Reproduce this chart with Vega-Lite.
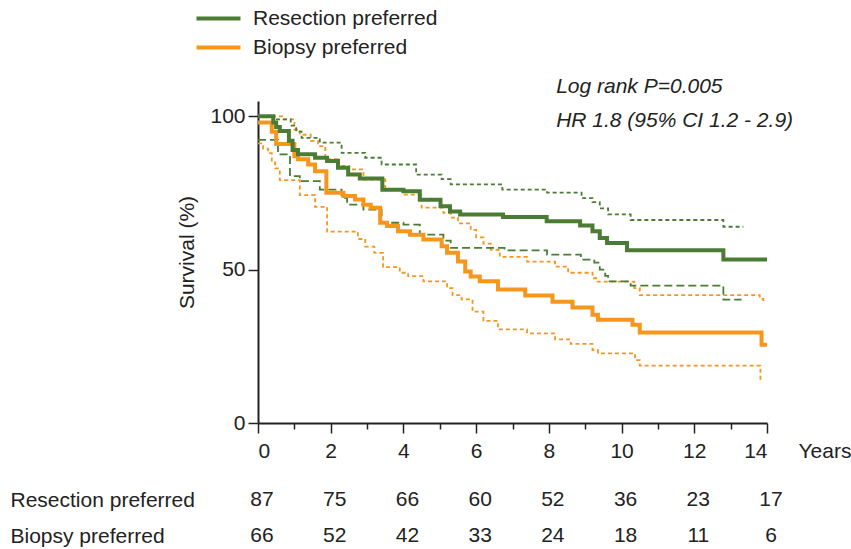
{
  "$schema": "https://vega.github.io/schema/vega-lite/v6.json",
  "autosize": "none",
  "width": 509,
  "height": 322,
  "padding": {"left": 258, "top": 101, "right": 84, "bottom": 126},
  "background": "white",
  "config": {
    "view": {"stroke": null},
    "font": "Liberation Sans",
    "axis": {"labelFont": "Liberation Sans", "titleFont": "Liberation Sans", "labelColor": "#222", "titleColor": "#222", "grid": false},
    "legend": {"labelFont": "Liberation Sans"},
    "text": {"font": "Liberation Sans"}
  },
  "datasets": {
    "curves": [
      {"g":"Biopsy preferred","k":"B est","t":0,"v":98},
      {"g":"Biopsy preferred","k":"B est","t":0.38,"v":95},
      {"g":"Biopsy preferred","k":"B est","t":0.5,"v":91},
      {"g":"Biopsy preferred","k":"B est","t":1.0,"v":87},
      {"g":"Biopsy preferred","k":"B est","t":1.1,"v":86},
      {"g":"Biopsy preferred","k":"B est","t":1.38,"v":84.3},
      {"g":"Biopsy preferred","k":"B est","t":1.57,"v":82.1},
      {"g":"Biopsy preferred","k":"B est","t":1.88,"v":75.1},
      {"g":"Biopsy preferred","k":"B est","t":2.35,"v":74},
      {"g":"Biopsy preferred","k":"B est","t":2.67,"v":72.9},
      {"g":"Biopsy preferred","k":"B est","t":2.9,"v":71.2},
      {"g":"Biopsy preferred","k":"B est","t":3.1,"v":70.2},
      {"g":"Biopsy preferred","k":"B est","t":3.36,"v":65.3},
      {"g":"Biopsy preferred","k":"B est","t":3.55,"v":64.2},
      {"g":"Biopsy preferred","k":"B est","t":3.85,"v":62.5},
      {"g":"Biopsy preferred","k":"B est","t":4.18,"v":61.4},
      {"g":"Biopsy preferred","k":"B est","t":4.55,"v":59.8},
      {"g":"Biopsy preferred","k":"B est","t":5.05,"v":57.6},
      {"g":"Biopsy preferred","k":"B est","t":5.2,"v":55.5},
      {"g":"Biopsy preferred","k":"B est","t":5.5,"v":52.7},
      {"g":"Biopsy preferred","k":"B est","t":5.7,"v":49.4},
      {"g":"Biopsy preferred","k":"B est","t":5.85,"v":47.8},
      {"g":"Biopsy preferred","k":"B est","t":6.1,"v":46.2},
      {"g":"Biopsy preferred","k":"B est","t":6.6,"v":43.5},
      {"g":"Biopsy preferred","k":"B est","t":7.35,"v":41.6},
      {"g":"Biopsy preferred","k":"B est","t":8.1,"v":39.5},
      {"g":"Biopsy preferred","k":"B est","t":8.65,"v":37.7},
      {"g":"Biopsy preferred","k":"B est","t":9.2,"v":35.3},
      {"g":"Biopsy preferred","k":"B est","t":9.35,"v":33.7},
      {"g":"Biopsy preferred","k":"B est","t":10.3,"v":32},
      {"g":"Biopsy preferred","k":"B est","t":10.5,"v":29.5},
      {"g":"Biopsy preferred","k":"B est","t":13.85,"v":25.5},
      {"g":"Biopsy preferred","k":"B est","t":14,"v":25.5},

      {"g":"Biopsy preferred","k":"B upper","t":0,"v":100},
      {"g":"Biopsy preferred","k":"B upper","t":0.7,"v":99},
      {"g":"Biopsy preferred","k":"B upper","t":1.0,"v":95.7},
      {"g":"Biopsy preferred","k":"B upper","t":1.15,"v":94},
      {"g":"Biopsy preferred","k":"B upper","t":1.45,"v":92},
      {"g":"Biopsy preferred","k":"B upper","t":1.65,"v":90.3},
      {"g":"Biopsy preferred","k":"B upper","t":1.85,"v":86},
      {"g":"Biopsy preferred","k":"B upper","t":2.2,"v":83.8},
      {"g":"Biopsy preferred","k":"B upper","t":2.5,"v":82.7},
      {"g":"Biopsy preferred","k":"B upper","t":2.9,"v":79.4},
      {"g":"Biopsy preferred","k":"B upper","t":3.5,"v":76.1},
      {"g":"Biopsy preferred","k":"B upper","t":4.0,"v":74.5},
      {"g":"Biopsy preferred","k":"B upper","t":4.5,"v":70.2},
      {"g":"Biopsy preferred","k":"B upper","t":5.1,"v":68.5},
      {"g":"Biopsy preferred","k":"B upper","t":5.3,"v":67},
      {"g":"Biopsy preferred","k":"B upper","t":5.5,"v":65.1},
      {"g":"Biopsy preferred","k":"B upper","t":5.85,"v":63},
      {"g":"Biopsy preferred","k":"B upper","t":6.0,"v":60.5},
      {"g":"Biopsy preferred","k":"B upper","t":6.2,"v":58.5},
      {"g":"Biopsy preferred","k":"B upper","t":6.4,"v":56.5},
      {"g":"Biopsy preferred","k":"B upper","t":6.65,"v":54.2},
      {"g":"Biopsy preferred","k":"B upper","t":7.4,"v":52.6},
      {"g":"Biopsy preferred","k":"B upper","t":8.17,"v":51},
      {"g":"Biopsy preferred","k":"B upper","t":8.53,"v":49},
      {"g":"Biopsy preferred","k":"B upper","t":9.2,"v":47.2},
      {"g":"Biopsy preferred","k":"B upper","t":9.3,"v":46.1},
      {"g":"Biopsy preferred","k":"B upper","t":10.35,"v":44},
      {"g":"Biopsy preferred","k":"B upper","t":10.5,"v":41.7},
      {"g":"Biopsy preferred","k":"B upper","t":13.8,"v":40.5},
      {"g":"Biopsy preferred","k":"B upper","t":13.9,"v":39.3},

      {"g":"Biopsy preferred","k":"B lower","t":0,"v":91.2},
      {"g":"Biopsy preferred","k":"B lower","t":0.14,"v":89.5},
      {"g":"Biopsy preferred","k":"B lower","t":0.28,"v":88},
      {"g":"Biopsy preferred","k":"B lower","t":0.38,"v":85},
      {"g":"Biopsy preferred","k":"B lower","t":0.47,"v":83},
      {"g":"Biopsy preferred","k":"B lower","t":0.6,"v":79.2},
      {"g":"Biopsy preferred","k":"B lower","t":1.15,"v":74.3},
      {"g":"Biopsy preferred","k":"B lower","t":1.57,"v":70.5},
      {"g":"Biopsy preferred","k":"B lower","t":1.9,"v":62.4},
      {"g":"Biopsy preferred","k":"B lower","t":2.75,"v":60},
      {"g":"Biopsy preferred","k":"B lower","t":2.95,"v":57.5},
      {"g":"Biopsy preferred","k":"B lower","t":3.2,"v":55.5},
      {"g":"Biopsy preferred","k":"B lower","t":3.44,"v":50.8},
      {"g":"Biopsy preferred","k":"B lower","t":3.9,"v":49},
      {"g":"Biopsy preferred","k":"B lower","t":4.13,"v":47.9},
      {"g":"Biopsy preferred","k":"B lower","t":4.55,"v":46.2},
      {"g":"Biopsy preferred","k":"B lower","t":5.2,"v":44},
      {"g":"Biopsy preferred","k":"B lower","t":5.35,"v":41.7},
      {"g":"Biopsy preferred","k":"B lower","t":5.6,"v":40.3},
      {"g":"Biopsy preferred","k":"B lower","t":5.9,"v":36.3},
      {"g":"Biopsy preferred","k":"B lower","t":6.2,"v":33.3},
      {"g":"Biopsy preferred","k":"B lower","t":6.6,"v":30.5},
      {"g":"Biopsy preferred","k":"B lower","t":7.4,"v":29.2},
      {"g":"Biopsy preferred","k":"B lower","t":8.17,"v":27.3},
      {"g":"Biopsy preferred","k":"B lower","t":8.6,"v":25.8},
      {"g":"Biopsy preferred","k":"B lower","t":9.2,"v":23.8},
      {"g":"Biopsy preferred","k":"B lower","t":9.35,"v":22.7},
      {"g":"Biopsy preferred","k":"B lower","t":10.37,"v":20.5},
      {"g":"Biopsy preferred","k":"B lower","t":10.5,"v":18.7},
      {"g":"Biopsy preferred","k":"B lower","t":13.82,"v":14},

      {"g":"Resection preferred","k":"R est","t":0,"v":100},
      {"g":"Resection preferred","k":"R est","t":0.42,"v":98},
      {"g":"Resection preferred","k":"R est","t":0.5,"v":96.5},
      {"g":"Resection preferred","k":"R est","t":0.6,"v":95.2},
      {"g":"Resection preferred","k":"R est","t":0.85,"v":92},
      {"g":"Resection preferred","k":"R est","t":0.95,"v":89},
      {"g":"Resection preferred","k":"R est","t":1.1,"v":87.6},
      {"g":"Resection preferred","k":"R est","t":1.57,"v":86.5},
      {"g":"Resection preferred","k":"R est","t":1.9,"v":85.4},
      {"g":"Resection preferred","k":"R est","t":2.2,"v":83.2},
      {"g":"Resection preferred","k":"R est","t":2.48,"v":81},
      {"g":"Resection preferred","k":"R est","t":2.8,"v":79.7},
      {"g":"Resection preferred","k":"R est","t":3.42,"v":76.1},
      {"g":"Resection preferred","k":"R est","t":4.0,"v":75.6},
      {"g":"Resection preferred","k":"R est","t":4.45,"v":72.8},
      {"g":"Resection preferred","k":"R est","t":5.02,"v":70.7},
      {"g":"Resection preferred","k":"R est","t":5.28,"v":69},
      {"g":"Resection preferred","k":"R est","t":5.56,"v":68},
      {"g":"Resection preferred","k":"R est","t":6.74,"v":67.2},
      {"g":"Resection preferred","k":"R est","t":7.94,"v":65.8},
      {"g":"Resection preferred","k":"R est","t":8.86,"v":64.4},
      {"g":"Resection preferred","k":"R est","t":9.2,"v":62.5},
      {"g":"Resection preferred","k":"R est","t":9.4,"v":60.3},
      {"g":"Resection preferred","k":"R est","t":9.6,"v":58.7},
      {"g":"Resection preferred","k":"R est","t":10.15,"v":56.3},
      {"g":"Resection preferred","k":"R est","t":12.8,"v":53.3},
      {"g":"Resection preferred","k":"R est","t":14,"v":53.3},

      {"g":"Resection preferred","k":"R upper","t":0,"v":100},
      {"g":"Resection preferred","k":"R upper","t":0.45,"v":99},
      {"g":"Resection preferred","k":"R upper","t":0.9,"v":97},
      {"g":"Resection preferred","k":"R upper","t":1.05,"v":95},
      {"g":"Resection preferred","k":"R upper","t":1.2,"v":93},
      {"g":"Resection preferred","k":"R upper","t":1.7,"v":91.4},
      {"g":"Resection preferred","k":"R upper","t":2.3,"v":88.1},
      {"g":"Resection preferred","k":"R upper","t":2.95,"v":86.5},
      {"g":"Resection preferred","k":"R upper","t":3.4,"v":84.3},
      {"g":"Resection preferred","k":"R upper","t":4.35,"v":81},
      {"g":"Resection preferred","k":"R upper","t":5.05,"v":79.5},
      {"g":"Resection preferred","k":"R upper","t":5.3,"v":77.8},
      {"g":"Resection preferred","k":"R upper","t":6.72,"v":76.1},
      {"g":"Resection preferred","k":"R upper","t":7.95,"v":75.1},
      {"g":"Resection preferred","k":"R upper","t":8.9,"v":73.3},
      {"g":"Resection preferred","k":"R upper","t":9.2,"v":72},
      {"g":"Resection preferred","k":"R upper","t":9.4,"v":70},
      {"g":"Resection preferred","k":"R upper","t":9.63,"v":68},
      {"g":"Resection preferred","k":"R upper","t":10.25,"v":66.2},
      {"g":"Resection preferred","k":"R upper","t":12.8,"v":64},
      {"g":"Resection preferred","k":"R upper","t":13.35,"v":64},

      {"g":"Resection preferred","k":"R lower","t":0,"v":92.3},
      {"g":"Resection preferred","k":"R lower","t":0.55,"v":87.6},
      {"g":"Resection preferred","k":"R lower","t":0.88,"v":80.5},
      {"g":"Resection preferred","k":"R lower","t":1.15,"v":78.9},
      {"g":"Resection preferred","k":"R lower","t":1.7,"v":76.1},
      {"g":"Resection preferred","k":"R lower","t":2.3,"v":73.4},
      {"g":"Resection preferred","k":"R lower","t":2.45,"v":71.2},
      {"g":"Resection preferred","k":"R lower","t":2.9,"v":69.6},
      {"g":"Resection preferred","k":"R lower","t":3.4,"v":65.3},
      {"g":"Resection preferred","k":"R lower","t":4.0,"v":64.7},
      {"g":"Resection preferred","k":"R lower","t":4.45,"v":61.4},
      {"g":"Resection preferred","k":"R lower","t":5.1,"v":59.5},
      {"g":"Resection preferred","k":"R lower","t":5.3,"v":57.1},
      {"g":"Resection preferred","k":"R lower","t":6.78,"v":56.3},
      {"g":"Resection preferred","k":"R lower","t":7.95,"v":54.9},
      {"g":"Resection preferred","k":"R lower","t":8.88,"v":53.3},
      {"g":"Resection preferred","k":"R lower","t":9.25,"v":52.3},
      {"g":"Resection preferred","k":"R lower","t":9.4,"v":50},
      {"g":"Resection preferred","k":"R lower","t":9.55,"v":48},
      {"g":"Resection preferred","k":"R lower","t":9.63,"v":46.2},
      {"g":"Resection preferred","k":"R lower","t":10.25,"v":44.8},
      {"g":"Resection preferred","k":"R lower","t":12.8,"v":40.2},
      {"g":"Resection preferred","k":"R lower","t":13.3,"v":40.2}
    ],
    "risk": [
      {"row":"Resection preferred","t":0,"n":87},
      {"row":"Resection preferred","t":2,"n":75},
      {"row":"Resection preferred","t":4,"n":66},
      {"row":"Resection preferred","t":6,"n":60},
      {"row":"Resection preferred","t":8,"n":52},
      {"row":"Resection preferred","t":10,"n":36},
      {"row":"Resection preferred","t":12,"n":23},
      {"row":"Resection preferred","t":14,"n":17},
      {"row":"Biopsy preferred","t":0,"n":66},
      {"row":"Biopsy preferred","t":2,"n":52},
      {"row":"Biopsy preferred","t":4,"n":42},
      {"row":"Biopsy preferred","t":6,"n":33},
      {"row":"Biopsy preferred","t":8,"n":24},
      {"row":"Biopsy preferred","t":10,"n":18},
      {"row":"Biopsy preferred","t":12,"n":11},
      {"row":"Biopsy preferred","t":14,"n":6}
    ],
    "one": [{}]
  },
  "layer": [
    {
      "data": {"name": "curves"},
      "transform": [{"filter": {"field": "k", "oneOf": ["R upper", "R lower", "B upper", "B lower"]}}],
      "mark": {"type": "line", "interpolate": "step-after", "strokeWidth": 1.8},
      "encoding": {
        "x": {"field": "t", "type": "quantitative",
          "scale": {"domain": [0, 14], "nice": false, "zero": false},
          "axis": {"orient": "bottom", "values": [1, 3, 5, 7, 9, 11, 13], "labels": false, "domain": false, "ticks": true, "tickSize": 6, "tickWidth": 1.5, "tickColor": "#222", "title": null, "grid": false}},
        "y": {"field": "v", "type": "quantitative", "scale": {"domain": [0, 105], "nice": false}, "axis": null},
        "color": {"field": "g", "type": "nominal",
          "scale": {"domain": ["Resection preferred", "Biopsy preferred"], "range": ["#4b7c33", "#f7961c"]},
          "legend": {"orient": "none", "legendX": -50, "legendY": -93, "title": null, "labelFontSize": 21, "labelColor": "#222",
            "symbolType": "M-4,0H4", "symbolSize": 121, "symbolStrokeWidth": 4, "labelOffset": 24, "rowPadding": 7, "labelLimit": 400}},
        "strokeDash": {"field": "k", "type": "nominal",
          "scale": {"domain": ["R upper", "R lower", "B upper", "B lower"], "range": [[4, 3], [8, 4], [4, 3], [4, 3]]},
          "legend": null}
      }
    },
    {
      "data": {"name": "curves"},
      "transform": [{"filter": {"field": "k", "oneOf": ["B est", "R est"]}}],
      "mark": {"type": "line", "interpolate": "step-after", "strokeWidth": 4},
      "encoding": {
        "x": {"field": "t", "type": "quantitative",
          "scale": {"domain": [0, 14], "nice": false, "zero": false},
          "axis": {"orient": "bottom", "values": [0, 2, 4, 6, 8, 10, 12, 14], "tickSize": 10, "tickWidth": 1.5, "tickColor": "#222",
            "domainColor": "#222", "domainWidth": 2, "labelFontSize": 21, "labelPadding": 7, "labelBaseline": "top",
            "title": "Years", "titleFontSize": 21, "titleFontWeight": "normal", "titleX": 540, "titleY": 17,
            "titleAlign": "left", "titleBaseline": "top"}},
        "y": {"field": "v", "type": "quantitative", "scale": {"domain": [0, 105], "nice": false},
          "axis": {"orient": "left", "values": [0, 50, 100], "tickSize": 10, "tickWidth": 1.5, "tickColor": "#222",
            "domainColor": "#222", "domainWidth": 2, "labelFontSize": 21, "labelPadding": 3,
            "title": "Survival (%)", "titleFontSize": 21, "titleFontWeight": "normal", "titlePadding": 12, "titleY": 151}},
        "color": {"field": "g", "type": "nominal",
          "scale": {"domain": ["Resection preferred", "Biopsy preferred"], "range": ["#4b7c33", "#f7961c"]},
          "legend": {"orient": "none", "legendX": -50, "legendY": -93, "title": null, "labelFontSize": 21, "labelColor": "#222",
            "symbolType": "M-4,0H4", "symbolSize": 121, "symbolStrokeWidth": 4, "labelOffset": 24, "rowPadding": 7, "labelLimit": 400}}
      }
    },
    {
      "data": {"name": "risk"},
      "mark": {"type": "text", "fontSize": 21, "color": "#222", "align": "center", "baseline": "middle", "dx": 4},
      "encoding": {
        "x": {"field": "t", "type": "quantitative", "axis": null},
        "y": {"field": "row", "type": "nominal",
          "scale": {"type": "point", "domain": ["Resection preferred", "Biopsy preferred"], "range": [399, 435], "padding": 0},
          "axis": {"orient": "left", "domain": false, "ticks": false, "tickSize": 0, "labelPadding": 248, "labelAlign": "left",
            "labelBaseline": "middle", "labelFontSize": 21, "labelLimit": 400, "title": null}},
        "text": {"field": "n", "type": "quantitative"}
      }
    },
    {
      "data": {"name": "one"},
      "mark": {"type": "text", "text": "Log rank P=0.005", "fontSize": 21, "fontStyle": "italic", "color": "#222", "align": "left", "baseline": "middle"},
      "encoding": {
        "x": {"datum": 8.2, "type": "quantitative", "axis": null},
        "y": {"datum": 109.6, "type": "quantitative", "scale": {"domain": [0, 105], "nice": false}, "axis": null}
      }
    },
    {
      "data": {"name": "one"},
      "mark": {"type": "text", "text": "HR 1.8 (95% CI 1.2 - 2.9)", "fontSize": 21, "fontStyle": "italic", "color": "#222", "align": "left", "baseline": "middle"},
      "encoding": {
        "x": {"datum": 8.2, "type": "quantitative", "axis": null},
        "y": {"datum": 98.5, "type": "quantitative", "scale": {"domain": [0, 105], "nice": false}, "axis": null}
      }
    }
  ],
  "resolve": {"scale": {"y": "independent"}, "axis": {"x": "independent", "y": "independent"}}
}
